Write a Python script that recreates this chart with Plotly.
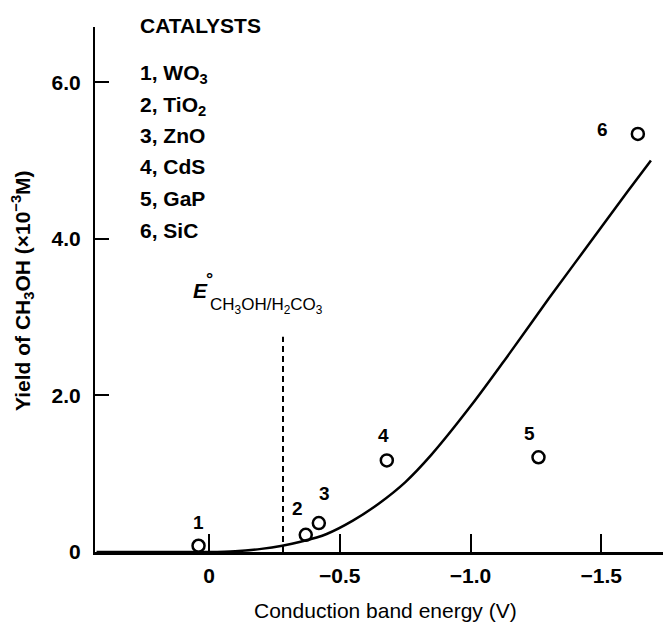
import plotly.graph_objects as go

# ---- data ----
catalysts = ["WO3", "TiO2", "ZnO", "CdS", "GaP", "SiC"]
catalyst_labels = ["1, WO<sub>3</sub>", "2, TiO<sub>2</sub>", "3, ZnO",
                   "4, CdS", "5, GaP", "6, SiC"]
point_ids = ["1", "2", "3", "4", "5", "6"]
cb_energy = [0.04, -0.37, -0.42, -0.68, -1.26, -1.64]      # V
meoh_yield = [0.08, 0.22, 0.37, 1.17, 1.21, 5.34]         # x10^-3 M

curve_x = [0.43, 0.2, 0.1, 0.0, -0.1, -0.2, -0.28, -0.35, -0.45, -0.55,
           -0.65, -0.75, -0.85, -1.0, -1.15, -1.3, -1.45, -1.6, -1.69]
curve_y = [0.0, 0.0, 0.0, 0.0, 0.01, 0.04, 0.08, 0.13, 0.23, 0.40,
           0.62, 0.89, 1.24, 1.86, 2.54, 3.24, 3.92, 4.6, 5.0]

e_ref = -0.283          # E° CH3OH/H2CO3 (V)
e_line_top = 2.75

x_ticks = [0, -0.5, -1.0, -1.5]
x_ticktext = ["0", "\u22120.5", "\u22121.0", "\u22121.5"]
y_ticks = [0, 2.0, 4.0, 6.0]
y_ticktext = ["0", "2.0", "4.0", "6.0"]

# ---- layout geometry ----
W, H = 663, 625
ML, MR, MT, MB = 95, 0, 27, 73
PW, PH = W - ML - MR, H - MT - MB


def px(xp, yp):
    return (xp - ML) / PW, 1 - (yp - MT) / PH


FONT = "Liberation Sans, Arial, sans-serif"
label_offsets = [(0, 23), (-8, 26), (6, 30), (-3, 25), (-9, 24), (-35, 4)]

fig = go.Figure()
fig.add_trace(go.Scatter(x=curve_x, y=curve_y, mode="lines",
                         line=dict(color="black", width=2.5, shape="spline",
                                   smoothing=1.0),
                         hoverinfo="skip", showlegend=False))
fig.add_trace(go.Scatter(x=[e_ref, e_ref], y=[0, e_line_top], mode="lines",
                         line=dict(color="black", width=2, dash="6px,4px"),
                         hoverinfo="skip", showlegend=False))
fig.add_trace(go.Scatter(x=cb_energy, y=meoh_yield, mode="markers",
                         marker=dict(symbol="circle-open", size=12, color="black",
                                     line=dict(width=2.5, color="black")),
                         text=catalysts, cliponaxis=False, showlegend=False))

ann = []
for pid, xv, yv, (dx, dy) in zip(point_ids, cb_energy, meoh_yield, label_offsets):
    ann.append(dict(x=xv, y=yv, xref="x", yref="y", text=pid, showarrow=False,
                    xshift=dx, yshift=dy, font=dict(family=FONT, size=19, color="black",
                                                      weight="bold")))

# legend block
lx, ly = px(138, 25)
ann.append(dict(x=lx, y=ly, xref="paper", yref="paper", text="CATALYSTS",
                showarrow=False, xanchor="left", yanchor="middle",
                font=dict(family=FONT, size=21, color="black", weight="bold")))
for i, lab in enumerate(catalyst_labels):
    lx, ly = px(138, 72 + 31.6 * i)
    ann.append(dict(x=lx, y=ly, xref="paper", yref="paper", text=lab,
                    showarrow=False, xanchor="left", yanchor="middle",
                    yshift=-2 if "<sub>" in lab else 0,
                    font=dict(family=FONT, size=21, color="black", weight="bold")))

# E° label
ex, ey = px(200, 290)
ann.append(dict(x=ex, y=ey, xref="paper", yref="paper", text="<i>E</i>",
                showarrow=False, xanchor="center", yanchor="middle",
                font=dict(family=FONT, size=21, color="black", weight="bold")))
ex, ey = px(209, 279)
ann.append(dict(x=ex, y=ey, xref="paper", yref="paper", text="\u00b0",
                showarrow=False, xanchor="center", yanchor="middle",
                font=dict(family=FONT, size=18, color="black", weight="bold")))
ex, ey = px(208, 306)
ann.append(dict(x=ex, y=ey, xref="paper", yref="paper",
                text="CH<sub>3</sub>OH/H<sub>2</sub>CO<sub>3</sub>",
                showarrow=False, xanchor="left", yanchor="middle",
                font=dict(family=FONT, size=17, color="black")))

# axis titles
tx, ty = px(385, 610)
ann.append(dict(x=tx, y=ty, xref="paper", yref="paper",
                text="Conduction band energy (V)", showarrow=False,
                xanchor="center", yanchor="middle",
                font=dict(family=FONT, size=21, color="black")))
tx, ty = px(22, 291)
ann.append(dict(x=tx, y=ty, xref="paper", yref="paper",
                text="Yield of CH<sub>3</sub>OH (\u00d710<sup>\u22123</sup>M)",
                showarrow=False, textangle=-90, xanchor="center", yanchor="middle",
                font=dict(family=FONT, size=21, color="black", weight="bold")))

fig.update_layout(
    width=W, height=H, margin=dict(l=ML, r=MR, t=MT, b=MB),
    paper_bgcolor="white", plot_bgcolor="white", showlegend=False,
    annotations=ann,
    xaxis=dict(range=[(209 - ML) / 261.5, -(W - 209) / 261.5],
               tickvals=x_ticks, ticktext=x_ticktext,
               ticks="inside", ticklen=18, tickwidth=2, tickcolor="black",
               showline=True, linecolor="black", linewidth=2.5,
               showgrid=False, zeroline=False, ticklabelstandoff=3,
               tickfont=dict(family=FONT, size=21, color="black", weight="bold")),
    yaxis=dict(range=[0, (552 - MT) / 78.3],
               tickvals=y_ticks, ticktext=y_ticktext,
               ticks="inside", ticklen=14, tickwidth=2, tickcolor="black",
               showline=True, linecolor="black", linewidth=2,
               showgrid=False, zeroline=False, ticklabelstandoff=8,
               tickfont=dict(family=FONT, size=21, color="black", weight="bold")),
)

fig.write_html("out.html",
               config={"displayModeBar": False},
               post_script="document.body.style.margin='0';"
                           "document.body.style.overflow='hidden';")
